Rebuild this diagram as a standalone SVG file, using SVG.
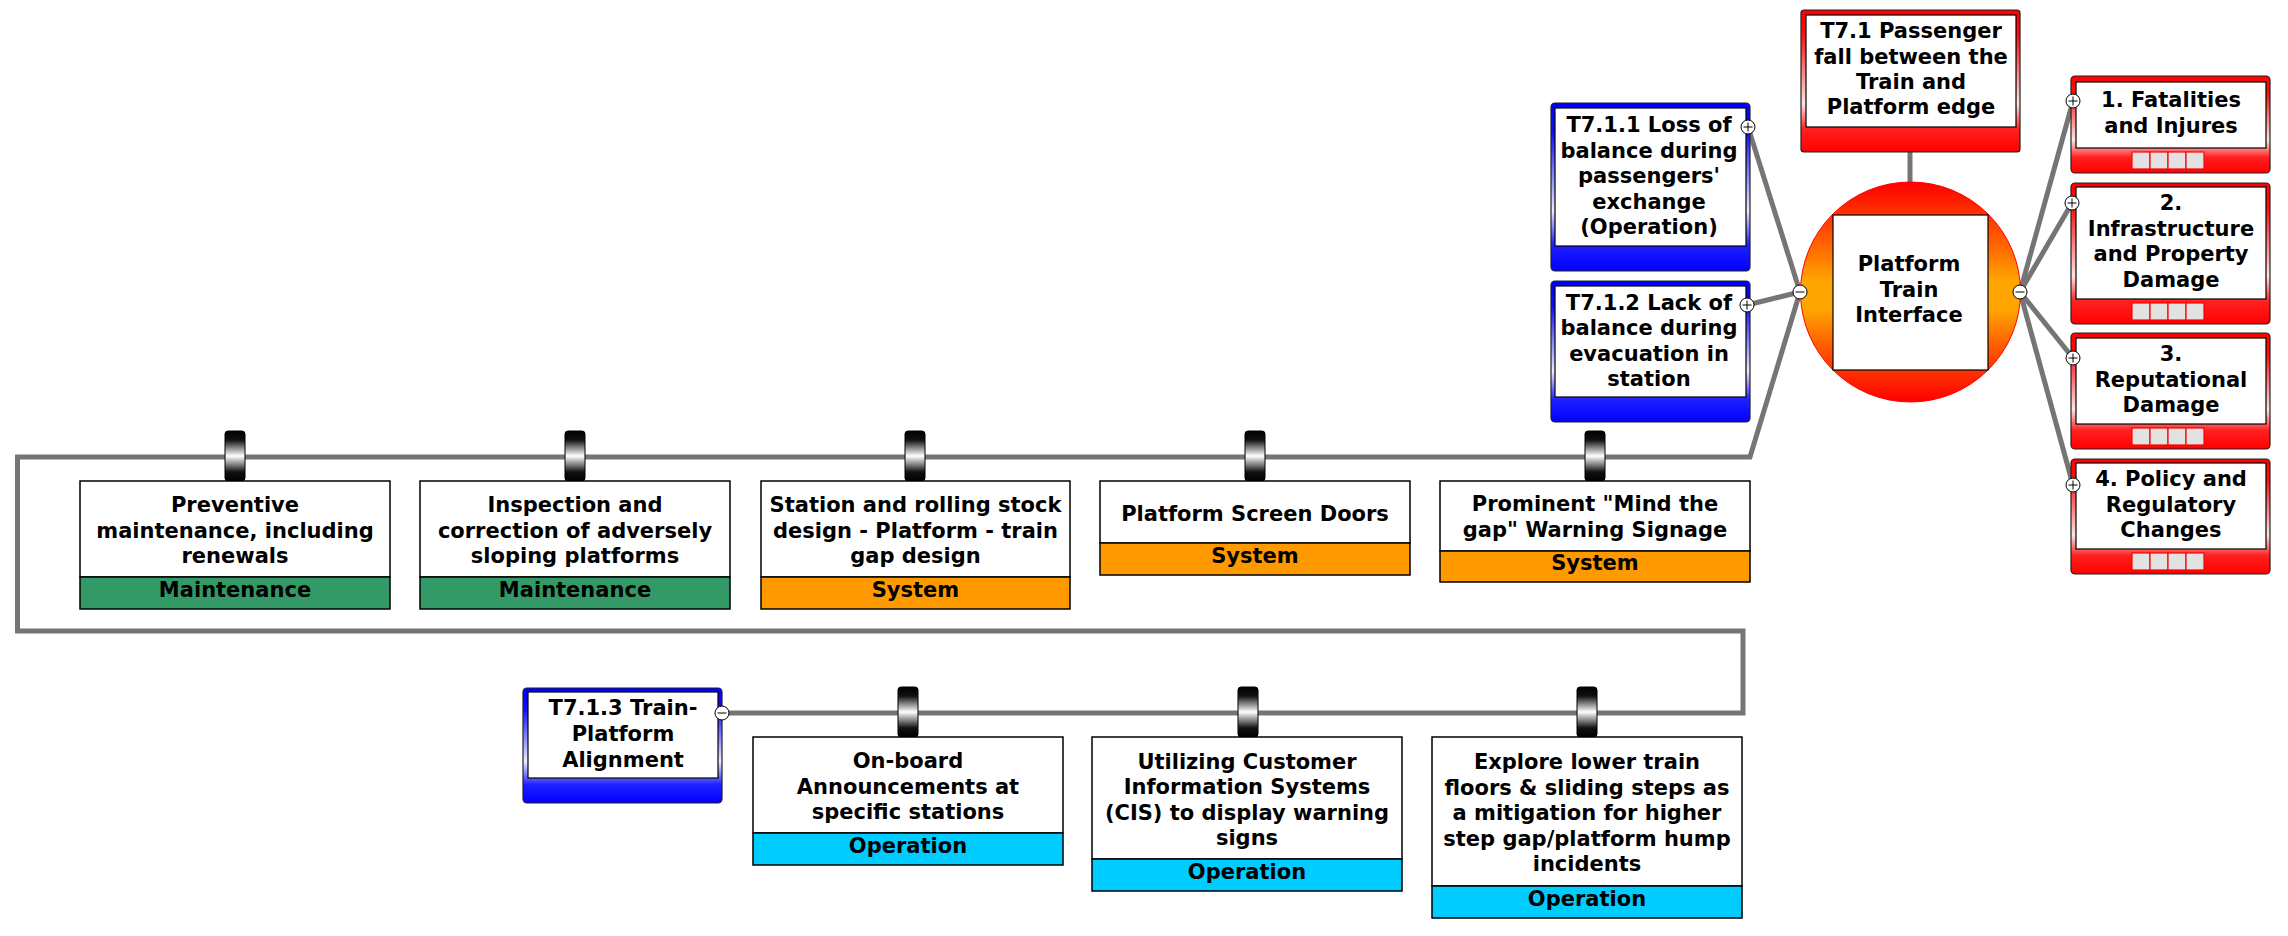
<svg xmlns="http://www.w3.org/2000/svg" width="2288" height="936" viewBox="0 0 2288 936">
<defs>
<linearGradient id="gRed" x1="0" y1="0" x2="0" y2="1">
<stop offset="0" stop-color="#FF0000"/><stop offset="0.18" stop-color="#FF1010"/><stop offset="0.66" stop-color="#FFE4E4"/><stop offset="0.84" stop-color="#FF2020"/><stop offset="1" stop-color="#FF0000"/>
</linearGradient>
<linearGradient id="gBlue" x1="0" y1="0" x2="0" y2="1">
<stop offset="0" stop-color="#0000FF"/><stop offset="0.18" stop-color="#1010FF"/><stop offset="0.64" stop-color="#ECECFF"/><stop offset="0.84" stop-color="#2020FF"/><stop offset="1" stop-color="#0000FF"/>
</linearGradient>
<linearGradient id="gCirc" x1="0" y1="0" x2="0" y2="1">
<stop offset="0" stop-color="#FF0000"/><stop offset="0.3" stop-color="#FF6A00"/><stop offset="0.45" stop-color="#FFA500"/><stop offset="0.58" stop-color="#FFA500"/><stop offset="0.75" stop-color="#FF5A00"/><stop offset="1" stop-color="#FF0000"/>
</linearGradient>
<linearGradient id="gTab" x1="0" y1="0" x2="0" y2="1">
<stop offset="0" stop-color="#000000"/><stop offset="0.18" stop-color="#111111"/><stop offset="0.5" stop-color="#FFFFFF"/><stop offset="0.82" stop-color="#111111"/><stop offset="1" stop-color="#000000"/>
</linearGradient>
<symbol id="plus" overflow="visible"><circle r="7" fill="#fff" stroke="#000" stroke-width="1"/><path d="M-4.5 0H4.5M0 -4.5V4.5" stroke="#000" stroke-width="1"/></symbol>
<symbol id="minus" overflow="visible"><circle r="7" fill="#fff" stroke="#000" stroke-width="1"/><path d="M-4.5 0H4.5" stroke="#000" stroke-width="1"/></symbol>
</defs>
<style>
text{font-family:"DejaVu Sans",Verdana,sans-serif;font-weight:bold;font-size:21px;fill:#000;text-anchor:middle}
.conn{fill:none;stroke:#757575;stroke-width:5;stroke-linejoin:miter}
.frR{fill:url(#gRed);stroke:#222;stroke-width:1.2}
.frB{fill:url(#gBlue);stroke:#222;stroke-width:1.2}
.in{fill:#fff;stroke:#000;stroke-width:1.2}
.box{fill:#fff;stroke:#000;stroke-width:1.5}
.mnt{fill:#339966;stroke:#000;stroke-width:1.5}
.sys{fill:#FF9900;stroke:#000;stroke-width:1.5}
.opr{fill:#00CCFF;stroke:#000;stroke-width:1.5}
.tab{fill:url(#gTab);stroke:#000;stroke-width:1}
.sq{fill:#E2E2E2;stroke:#FF0000;stroke-width:1.2}
</style>

<g id="connectors">
<path class="conn" d="M722 713H1743V631H17.5V457H1750L1800 292"/>
<path class="conn" d="M1748 127L1800 292"/>
<path class="conn" d="M1747 305L1800 292"/>
<path class="conn" d="M1910 152V182"/>
<path class="conn" d="M2020 292L2073 101"/>
<path class="conn" d="M2020 292L2072 203"/>
<path class="conn" d="M2020 292L2073 358"/>
<path class="conn" d="M2020 292L2073 485"/>
</g>

<g id="hazard">
<rect class="frR" x="1801" y="10" width="219" height="142" rx="3"/>
<rect class="in" x="1806" y="15" width="210" height="112"/>
<text x="1911" y="38">T7.1 Passenger</text>
<text x="1911" y="63.5">fall between the</text>
<text x="1911" y="89">Train and</text>
<text x="1911" y="114">Platform edge</text>
</g>

<g id="topEvent">
<circle cx="1910.5" cy="292" r="110" fill="url(#gCirc)" stroke="#FF0000" stroke-width="1"/>
<rect class="in" x="1833" y="215" width="155" height="155"/>
<text x="1909" y="271">Platform</text>
<text x="1909" y="297">Train</text>
<text x="1909" y="322">Interface</text>
<use href="#minus" x="1800" y="292"/>
<use href="#minus" x="2020" y="292"/>
</g>

<g id="threat1">
<rect class="frB" x="1551" y="103" width="199" height="168" rx="4"/>
<rect class="in" x="1555" y="108" width="191" height="138"/>
<text x="1649" y="132">T7.1.1 Loss of</text>
<text x="1649" y="157.5">balance during</text>
<text x="1649" y="183">passengers'</text>
<text x="1649" y="208.5">exchange</text>
<text x="1649" y="234">(Operation)</text>
<use href="#plus" x="1748" y="127"/>
</g>

<g id="threat2">
<rect class="frB" x="1551" y="281" width="199" height="141" rx="4"/>
<rect class="in" x="1555" y="286" width="191" height="111"/>
<text x="1649" y="309.5">T7.1.2 Lack of</text>
<text x="1649" y="335">balance during</text>
<text x="1649" y="360.5">evacuation in</text>
<text x="1649" y="386">station</text>
<use href="#plus" x="1747" y="305"/>
</g>

<g id="threat3">
<rect class="frB" x="523" y="688" width="199" height="115" rx="4"/>
<rect class="in" x="528" y="692" width="190" height="86"/>
<text x="623" y="715">T7.1.3 Train-</text>
<text x="623" y="741">Platform</text>
<text x="623" y="766.5">Alignment</text>
<use href="#minus" x="722" y="713"/>
</g>

<g id="cons1">
<rect class="frR" x="2071" y="76" width="199" height="97" rx="4"/>
<rect class="in" x="2076" y="82" width="190" height="66"/>
<rect class="sq" x="2132" y="152" width="18" height="17"/><rect class="sq" x="2150" y="152" width="18" height="17"/><rect class="sq" x="2168" y="152" width="18" height="17"/><rect class="sq" x="2186" y="152" width="18" height="17"/>
<text x="2171" y="107">1. Fatalities</text>
<text x="2171" y="132.5">and Injures</text>
<use href="#plus" x="2073" y="101"/>
</g>

<g id="cons2">
<rect class="frR" x="2071" y="183" width="199" height="141" rx="4"/>
<rect class="in" x="2076" y="187" width="190" height="112"/>
<rect class="sq" x="2132" y="303" width="18" height="17"/><rect class="sq" x="2150" y="303" width="18" height="17"/><rect class="sq" x="2168" y="303" width="18" height="17"/><rect class="sq" x="2186" y="303" width="18" height="17"/>
<text x="2171" y="210">2.</text>
<text x="2171" y="235.5">Infrastructure</text>
<text x="2171" y="261">and Property</text>
<text x="2171" y="286.5">Damage</text>
<use href="#plus" x="2072" y="203"/>
</g>

<g id="cons3">
<rect class="frR" x="2071" y="333" width="199" height="116" rx="4"/>
<rect class="in" x="2076" y="338" width="190" height="86"/>
<rect class="sq" x="2132" y="428" width="18" height="17"/><rect class="sq" x="2150" y="428" width="18" height="17"/><rect class="sq" x="2168" y="428" width="18" height="17"/><rect class="sq" x="2186" y="428" width="18" height="17"/>
<text x="2171" y="361">3.</text>
<text x="2171" y="386.5">Reputational</text>
<text x="2171" y="412">Damage</text>
<use href="#plus" x="2073" y="358"/>
</g>

<g id="cons4">
<rect class="frR" x="2071" y="459" width="199" height="115" rx="4"/>
<rect class="in" x="2076" y="463" width="190" height="86"/>
<rect class="sq" x="2132" y="553" width="18" height="17"/><rect class="sq" x="2150" y="553" width="18" height="17"/><rect class="sq" x="2168" y="553" width="18" height="17"/><rect class="sq" x="2186" y="553" width="18" height="17"/>
<text x="2171" y="486">4. Policy and</text>
<text x="2171" y="511.5">Regulatory</text>
<text x="2171" y="537">Changes</text>
<use href="#plus" x="2073" y="485"/>
</g>

<g id="barrier1">
<rect class="tab" x="225" y="431" width="20" height="50" rx="3"/>
<rect class="box" x="80" y="481" width="310" height="96"/>
<rect class="mnt" x="80" y="577" width="310" height="32"/>
<text x="235" y="512">Preventive</text>
<text x="235" y="537.5">maintenance, including</text>
<text x="235" y="563">renewals</text>
<text x="235" y="596.5">Maintenance</text>
</g>

<g id="barrier2">
<rect class="tab" x="565" y="431" width="20" height="50" rx="3"/>
<rect class="box" x="420" y="481" width="310" height="96"/>
<rect class="mnt" x="420" y="577" width="310" height="32"/>
<text x="575" y="512">Inspection and</text>
<text x="575" y="537.5">correction of adversely</text>
<text x="575" y="563">sloping platforms</text>
<text x="575" y="596.5">Maintenance</text>
</g>

<g id="barrier3">
<rect class="tab" x="905" y="431" width="20" height="50" rx="3"/>
<rect class="box" x="761" y="481" width="309" height="96"/>
<rect class="sys" x="761" y="577" width="309" height="32"/>
<text x="915.5" y="512">Station and rolling stock</text>
<text x="915.5" y="537.5">design - Platform - train</text>
<text x="915.5" y="563">gap design</text>
<text x="915.5" y="596.5">System</text>
</g>

<g id="barrier4">
<rect class="tab" x="1245" y="431" width="20" height="50" rx="3"/>
<rect class="box" x="1100" y="481" width="310" height="62"/>
<rect class="sys" x="1100" y="543" width="310" height="32"/>
<text x="1255" y="521">Platform Screen Doors</text>
<text x="1255" y="562.5">System</text>
</g>

<g id="barrier5">
<rect class="tab" x="1585" y="431" width="20" height="50" rx="3"/>
<rect class="box" x="1440" y="481" width="310" height="70"/>
<rect class="sys" x="1440" y="551" width="310" height="31"/>
<text x="1595" y="511">Prominent &quot;Mind the</text>
<text x="1595" y="536.5">gap&quot; Warning Signage</text>
<text x="1595" y="569.5">System</text>
</g>

<g id="barrier6">
<rect class="tab" x="898" y="687" width="20" height="50" rx="3"/>
<rect class="box" x="753" y="737" width="310" height="96"/>
<rect class="opr" x="753" y="833" width="310" height="32"/>
<text x="908" y="768">On-board</text>
<text x="908" y="793.5">Announcements at</text>
<text x="908" y="819">specific stations</text>
<text x="908" y="852.5">Operation</text>
</g>

<g id="barrier7">
<rect class="tab" x="1238" y="687" width="20" height="50" rx="3"/>
<rect class="box" x="1092" y="737" width="310" height="122"/>
<rect class="opr" x="1092" y="859" width="310" height="32"/>
<text x="1247" y="768.5">Utilizing Customer</text>
<text x="1247" y="794">Information Systems</text>
<text x="1247" y="819.5">(CIS) to display warning</text>
<text x="1247" y="845">signs</text>
<text x="1247" y="878.5">Operation</text>
</g>

<g id="barrier8">
<rect class="tab" x="1577" y="687" width="20" height="50" rx="3"/>
<rect class="box" x="1432" y="737" width="310" height="149"/>
<rect class="opr" x="1432" y="886" width="310" height="32"/>
<text x="1587" y="769">Explore lower train</text>
<text x="1587" y="794.5">floors &amp; sliding steps as</text>
<text x="1587" y="820">a mitigation for higher</text>
<text x="1587" y="845.5">step gap/platform hump</text>
<text x="1587" y="871">incidents</text>
<text x="1587" y="905.5">Operation</text>
</g>
</svg>
